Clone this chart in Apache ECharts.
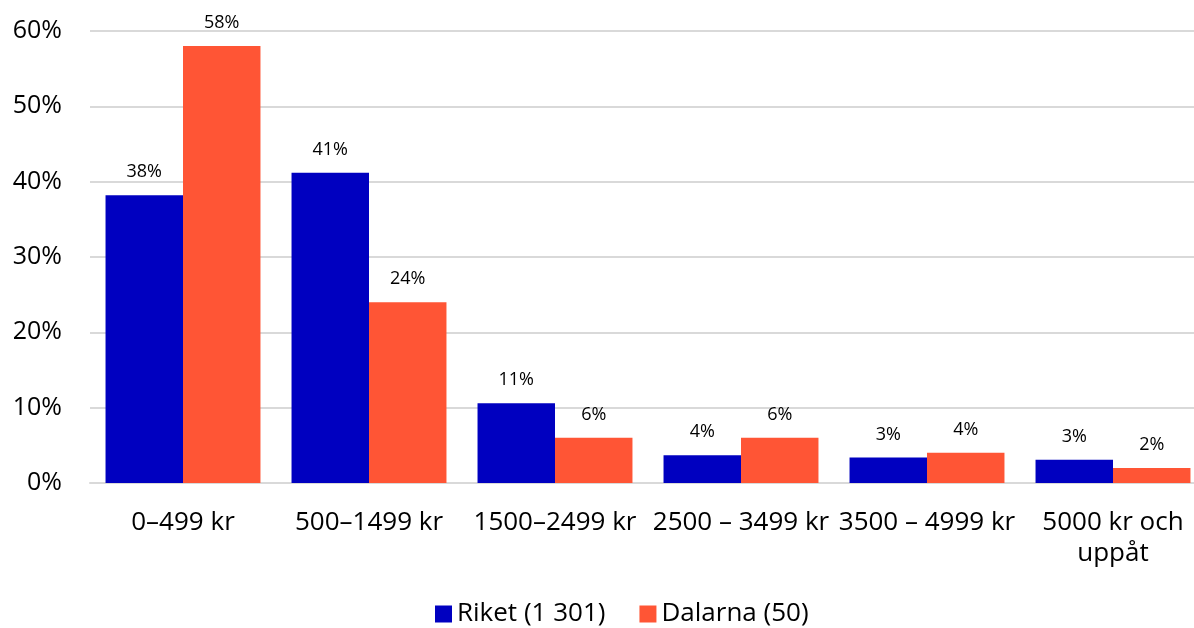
<!DOCTYPE html>
<html><head><meta charset="utf-8">
<script src="https://cdn.jsdelivr.net/npm/echarts@6/dist/echarts.min.js"></script>
<style>html,body{margin:0;padding:0;background:#fff;overflow:hidden}#c{width:1206px;height:628px}</style>
</head><body><div id="c"></div>
<script>
const categories = ['0–499 kr', '500–1499 kr', '1500–2499 kr', '2500 – 3499 kr', '3500 – 4999 kr', '5000 kr och\nuppåt'];
const riket = [38.2, 41.2, 10.6, 3.7, 3.4, 3.1];
const dalarna = [58.0, 24.0, 6.0, 6.0, 4.0, 2.0];
const riketLabels = ['38%', '41%', '11%', '4%', '3%', '3%'];
const dalarnaLabels = ['58%', '24%', '6%', '6%', '4%', '2%'];
const seriesNames = ['Riket (1 301)', 'Dalarna (50)'];

const font = 'Open Sans';
const chart = echarts.init(document.getElementById('c'), null, {renderer: 'canvas'});
function lab(arr) {
  return {show: true, position: 'top', distance: 14, color: '#000', fontFamily: font, fontSize: 18,
    formatter: p => arr[p.dataIndex]};
}
chart.setOption({
  animation: false,
  grid: {left: 90, right: 0, top: 31, height: 452, containLabel: false},
  legend: {
    bottom: -4, left: 430, itemWidth: 17, itemHeight: 17, itemGap: 34,
    icon: 'rect',
    textStyle: {fontFamily: font, fontSize: 26, color: '#000'},
    data: seriesNames
  },
  xAxis: {
    type: 'category', data: categories,
    axisLine: {lineStyle: {color: '#d9d9d9', width: 2}},
    axisTick: {show: false},
    axisLabel: {interval: 0, fontFamily: font, fontSize: 26, color: '#000', margin: 24, lineHeight: 31}
  },
  yAxis: {
    type: 'value', min: 0, max: 60, interval: 10,
    axisLabel: {formatter: '{value}%', fontFamily: font, fontSize: 25, color: '#000', margin: 28},
    splitLine: {lineStyle: {color: '#d9d9d9', width: 2}},
    axisLine: {show: false}, axisTick: {show: false}
  },
  series: [
    {name: seriesNames[0], type: 'bar', data: riket, itemStyle: {color: '#0000C0'},
     barGap: '0%', barCategoryGap: '16.7%', label: lab(riketLabels)},
    {name: seriesNames[1], type: 'bar', data: dalarna, itemStyle: {color: '#FF5535'},
     barGap: '0%', barCategoryGap: '16.7%', label: lab(dalarnaLabels)}
  ]
});
</script></body></html>
